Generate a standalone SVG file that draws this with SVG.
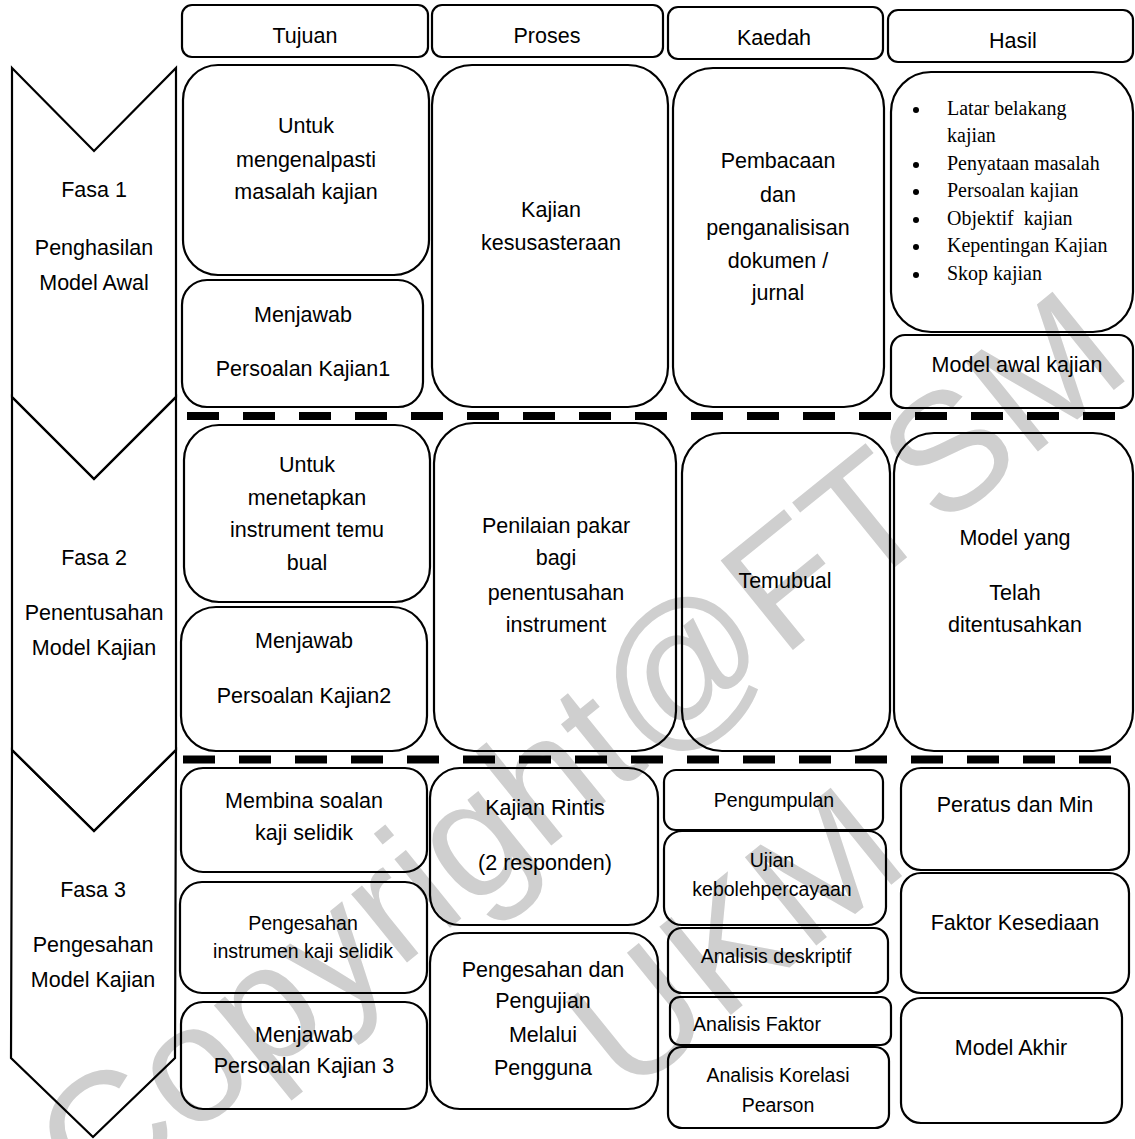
<svg xmlns="http://www.w3.org/2000/svg" width="1135" height="1139" viewBox="0 0 1135 1139">
<style>
.bx{fill:none;stroke:#000;stroke-width:2.2}
.ch{fill:none;stroke:#000;stroke-width:2.2;stroke-linejoin:miter}
.t{font-family:"Liberation Sans",Arial,sans-serif;font-size:21.5px;text-anchor:middle;fill:#000}
.s{font-size:19.5px}
.tm{font-family:"Liberation Serif","Times New Roman",serif;font-size:20px;fill:#000}
.wm{font-family:"Liberation Sans",Arial,sans-serif;fill:#cfcfcf}
.dash{stroke:#000;stroke-width:8;stroke-dasharray:32 24}
</style>
<rect width="1135" height="1139" fill="#fff"/>
<g id="watermark">
<text class="wm" font-size="167" transform="translate(95,1215) rotate(-39)">Copyright@FTSM</text>
<text class="wm" font-size="165" text-anchor="middle" transform="translate(770,983) rotate(-39)">UKM</text>
</g>
<g id="phases">
<g id="fasa1">
<polygon class="ch" points="12,68 94,151 176,68 176,397 94,479 12,397"/>
<text class="t" x="94" y="197">Fasa 1</text>
<text class="t" x="94" y="255">Penghasilan</text>
<text class="t" x="94" y="290">Model Awal</text>
</g>
<g id="fasa2">
<polygon class="ch" points="12,397 94,479 176,397 176,750 94,831 12,750"/>
<text class="t" x="94" y="565">Fasa 2</text>
<text class="t" x="94" y="620">Penentusahan</text>
<text class="t" x="94" y="655">Model Kajian</text>
</g>
<g id="fasa3">
<polygon class="ch" points="12,750 94,831 176,750 175,1058 93,1137 11,1058"/>
<text class="t" x="93" y="897">Fasa 3</text>
<text class="t" x="93" y="952">Pengesahan</text>
<text class="t" x="93" y="987">Model Kajian</text>
</g>
</g>
<g id="headers">
<g id="h-tujuan"><rect class="bx" x="182" y="5" width="246" height="52" rx="10"/><text class="t" x="305" y="43">Tujuan</text></g>
<g id="h-proses"><rect class="bx" x="432" y="5" width="231" height="52" rx="10"/><text class="t" x="547" y="43">Proses</text></g>
<g id="h-kaedah"><rect class="bx" x="668" y="7" width="215" height="52" rx="10"/><text class="t" x="774" y="45">Kaedah</text></g>
<g id="h-hasil"><rect class="bx" x="888" y="10" width="245" height="52" rx="10"/><text class="t" x="1013" y="48">Hasil</text></g>
</g>
<g id="connectors">
<line class="dash" x1="187" y1="416" x2="1116" y2="416"/>
<line class="dash" x1="183" y1="759.5" x2="1112" y2="759.5"/>
</g>
<g id="row1">
<g id="t1a"><rect class="bx" x="183" y="65" width="246" height="210" rx="35"/>
<text class="t" x="306" y="133">Untuk</text><text class="t" x="306" y="167">mengenalpasti</text><text class="t" x="306" y="199">masalah kajian</text></g>
<g id="t1b"><rect class="bx" x="182" y="280" width="241" height="127" rx="25"/>
<text class="t" x="303" y="322">Menjawab</text><text class="t" x="303" y="376">Persoalan Kajian1</text></g>
<g id="p1"><rect class="bx" x="432" y="65" width="236" height="342" rx="40"/>
<text class="t" x="551" y="217">Kajian</text><text class="t" x="551" y="250">kesusasteraan</text></g>
<g id="k1"><rect class="bx" x="673" y="68" width="211" height="339" rx="40"/>
<text class="t" x="778" y="168">Pembacaan</text><text class="t" x="778" y="202">dan</text><text class="t" x="778" y="235">penganalisisan</text><text class="t" x="778" y="268">dokumen /</text><text class="t" x="778" y="300">jurnal</text></g>
<g id="h1a"><rect class="bx" x="891" y="72" width="242" height="260" rx="40"/>
<g class="tm">
<circle cx="916" cy="110" r="3"/><text x="947" y="115">Latar belakang</text><text x="947" y="142">kajian</text>
<circle cx="916" cy="165" r="3"/><text x="947" y="170">Penyataan masalah</text>
<circle cx="916" cy="192" r="3"/><text x="947" y="197">Persoalan kajian</text>
<circle cx="916" cy="220" r="3"/><text x="947" y="225" xml:space="preserve">Objektif  kajian</text>
<circle cx="916" cy="247" r="3"/><text x="947" y="252">Kepentingan Kajian</text>
<circle cx="916" cy="275" r="3"/><text x="947" y="280">Skop kajian</text>
</g></g>
<g id="h1b"><rect class="bx" x="891" y="335" width="242" height="73" rx="14"/>
<text class="t" x="1017" y="372">Model awal kajian</text></g>
</g>
<g id="row2">
<g id="t2a"><rect class="bx" x="184" y="425" width="246" height="177" rx="35"/>
<text class="t" x="307" y="472">Untuk</text><text class="t" x="307" y="505">menetapkan</text><text class="t" x="307" y="537">instrument temu</text><text class="t" x="307" y="570">bual</text></g>
<g id="t2b"><rect class="bx" x="181" y="607" width="246" height="144" rx="35"/>
<text class="t" x="304" y="648">Menjawab</text><text class="t" x="304" y="703">Persoalan Kajian2</text></g>
<g id="p2"><rect class="bx" x="434" y="423" width="242" height="328" rx="40"/>
<text class="t" x="556" y="533">Penilaian pakar</text><text class="t" x="556" y="565">bagi</text><text class="t" x="556" y="600">penentusahan</text><text class="t" x="556" y="632">instrument</text></g>
<g id="k2"><rect class="bx" x="682" y="433" width="208" height="318" rx="40"/>
<text class="t" x="785" y="588">Temubual</text></g>
<g id="h2"><rect class="bx" x="894" y="433" width="239" height="318" rx="40"/>
<text class="t" x="1015" y="545">Model yang</text><text class="t" x="1015" y="600">Telah</text><text class="t" x="1015" y="632">ditentusahkan</text></g>
</g>
<g id="row3">
<g id="t3a"><rect class="bx" x="181" y="768" width="246" height="104" rx="22"/>
<text class="t" x="304" y="808">Membina soalan</text><text class="t" x="304" y="840">kaji selidik</text></g>
<g id="t3b"><rect class="bx" x="180" y="882" width="247" height="111" rx="22"/>
<text class="t s" x="303" y="930">Pengesahan</text><text class="t s" x="303" y="958">instrumen kaji selidik</text></g>
<g id="t3c"><rect class="bx" x="181" y="1002" width="246" height="107" rx="22"/>
<text class="t" x="304" y="1042">Menjawab</text><text class="t" x="304" y="1073">Persoalan Kajian 3</text></g>
<g id="p3a"><rect class="bx" x="430" y="768" width="228" height="157" rx="30"/>
<text class="t" x="545" y="815">Kajian Rintis</text><text class="t" x="545" y="870">(2 responden)</text></g>
<g id="p3b"><rect class="bx" x="430" y="933" width="228" height="176" rx="30"/>
<text class="t" x="543" y="977">Pengesahan dan</text><text class="t" x="543" y="1008">Pengujian</text><text class="t" x="543" y="1042">Melalui</text><text class="t" x="543" y="1075">Pengguna</text></g>
<g id="k3a"><rect class="bx" x="664" y="770" width="219" height="60" rx="12"/>
<text class="t s" x="774" y="807">Pengumpulan</text></g>
<g id="k3b"><rect class="bx" x="664" y="831" width="222" height="94" rx="18"/>
<text class="t s" x="772" y="867">Ujian</text><text class="t s" x="772" y="896">kebolehpercayaan</text></g>
<g id="k3c"><rect class="bx" x="668" y="928" width="220" height="65" rx="14"/>
<text class="t s" x="776" y="963">Analisis deskriptif</text></g>
<g id="k3d"><rect class="bx" x="670" y="997" width="221" height="48" rx="10"/>
<text class="t s" x="757" y="1031">Analisis Faktor</text></g>
<g id="k3e"><rect class="bx" x="668" y="1047" width="221" height="81" rx="14"/>
<text class="t s" x="778" y="1082">Analisis Korelasi</text><text class="t s" x="778" y="1112">Pearson</text></g>
<g id="h3a"><rect class="bx" x="901" y="768" width="228" height="102" rx="20"/>
<text class="t" x="1015" y="812">Peratus dan Min</text></g>
<g id="h3b"><rect class="bx" x="901" y="873" width="228" height="120" rx="20"/>
<text class="t" x="1015" y="930">Faktor Kesediaan</text></g>
<g id="h3c"><rect class="bx" x="901" y="998" width="221" height="125" rx="20"/>
<text class="t" x="1011" y="1055">Model Akhir</text></g>
</g>
</svg>
